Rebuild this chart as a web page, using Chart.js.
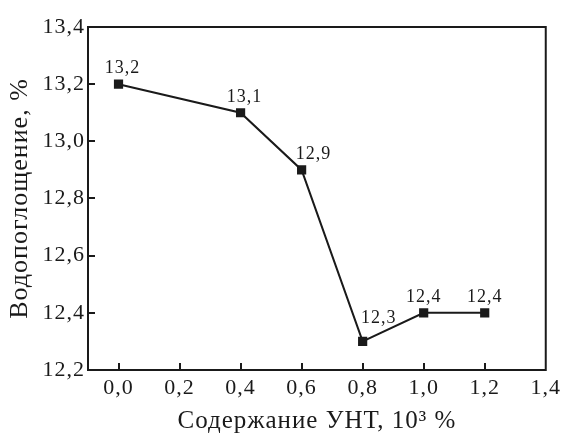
<!DOCTYPE html>
<html>
<head>
<meta charset="utf-8">
<script src="https://cdn.jsdelivr.net/npm/chart.js@4.4.0/dist/chart.umd.min.js"></script>
<style>
  html, body { margin: 0; padding: 0; background: #fff; }
  #wrap { width: 566px; height: 435px; }
</style>
</head>
<body>
<div id="wrap"><canvas id="chart"></canvas></div>
<script>
// данные с рисунка
const cntContent = [0.0, 0.4, 0.6, 0.8, 1.0, 1.2];
const waterAbsorption = [13.2, 13.1, 12.9, 12.3, 12.4, 12.4];
const xTicks = [0.0, 0.2, 0.4, 0.6, 0.8, 1.0, 1.2, 1.4];
const yTicks = [12.2, 12.4, 12.6, 12.8, 13.0, 13.2, 13.4];

const INK = '#1a1a1a';
const SERIF = "'Liberation Serif', 'DejaVu Serif', serif";
const fmt = v => v.toFixed(1).replace('.', ',');

// подписи значений над точками (12,3 сдвинута вправо-вверх, как на рисунке)
const labelShift = [[4, 0], [4, 0], [12, 0], [16, -7], [0, 0], [0, 0]];

// шрифт на рисунке немного разреженный
const spacing = {
    id: 'spacing',
    beforeLayout(chart) { chart.ctx.letterSpacing = '1px'; },
    beforeDraw(chart) { chart.ctx.letterSpacing = '1px'; }
};

const frameAndLabels = {
    id: 'frameAndLabels',
    afterDatasetsDraw(chart) {
        const { ctx, chartArea: a, scales: { x, y } } = chart;
        ctx.save();
        ctx.strokeStyle = INK;
        ctx.lineWidth = 2;
        // рамка
        ctx.strokeRect(a.left, a.top, a.right - a.left, a.bottom - a.top);
        // внутренние засечки
        ctx.beginPath();
        xTicks.forEach(v => {
            const px = Math.round(x.getPixelForValue(v));
            if (px >= a.right - 2) return;
            ctx.moveTo(px, a.bottom);
            ctx.lineTo(px, a.bottom - 7);
        });
        yTicks.forEach(v => {
            const py = Math.round(y.getPixelForValue(v));
            if (py <= a.top + 2 || py >= a.bottom - 2) return;
            ctx.moveTo(a.left, py);
            ctx.lineTo(a.left + 7, py);
        });
        ctx.stroke();
        // значения
        const meta = chart.getDatasetMeta(0);
        ctx.fillStyle = INK;
        ctx.font = '18px ' + SERIF;
        ctx.textAlign = 'center';
        ctx.textBaseline = 'alphabetic';
        meta.data.forEach((pt, i) => {
            const s = labelShift[i];
            ctx.fillText(fmt(waterAbsorption[i]), pt.x + s[0], pt.y - 11 + s[1]);
        });
        ctx.restore();
    }
};

new Chart(document.getElementById('chart'), {
    type: 'line',
    data: {
        datasets: [{
            data: cntContent.map((c, i) => ({ x: c, y: waterAbsorption[i] })),
            borderColor: INK,
            backgroundColor: INK,
            borderWidth: 2,
            pointStyle: 'rect',
            pointRadius: 6.5,
            pointBorderWidth: 0,
            tension: 0,
            fill: false
        }]
    },
    options: {
        responsive: true,
        maintainAspectRatio: false,
        animation: false,
        layout: { padding: { top: 27, right: 16, left: 0, bottom: 0 } },
        plugins: {
            legend: { display: false },
            tooltip: { enabled: false }
        },
        scales: {
            x: {
                type: 'linear',
                min: -0.1,
                max: 1.4,
                afterBuildTicks: s => { s.ticks = xTicks.map(v => ({ value: v })); },
                afterFit: s => { s.height = 65; },
                grid: { drawOnChartArea: false, drawTicks: false },
                border: { display: false },
                ticks: {
                    color: INK,
                    padding: 5,
                    maxRotation: 0,
                    font: { family: SERIF, size: 22 },
                    callback: v => fmt(v)
                },
                title: {
                    display: true,
                    text: 'Содержание УНТ, 10³ %',
                    color: INK,
                    padding: { top: 0, bottom: 0 },
                    font: { family: SERIF, size: 25, lineHeight: 1.1 }
                }
            },
            y: {
                min: 12.2,
                max: 13.4,
                afterBuildTicks: s => { s.ticks = yTicks.map(v => ({ value: v })); },
                afterFit: s => { s.width = 88; },
                grid: { drawOnChartArea: false, drawTicks: false },
                border: { display: false },
                ticks: {
                    color: INK,
                    padding: 3,
                    font: { family: SERIF, size: 22 },
                    callback: v => fmt(v)
                },
                title: {
                    display: true,
                    text: 'Водопоглощение, %',
                    color: INK,
                    padding: { top: 6, bottom: 0 },
                    font: { family: SERIF, size: 26, lineHeight: 1.1 }
                }
            }
        }
    },
    plugins: [spacing, frameAndLabels]
});
</script>
</body>
</html>
